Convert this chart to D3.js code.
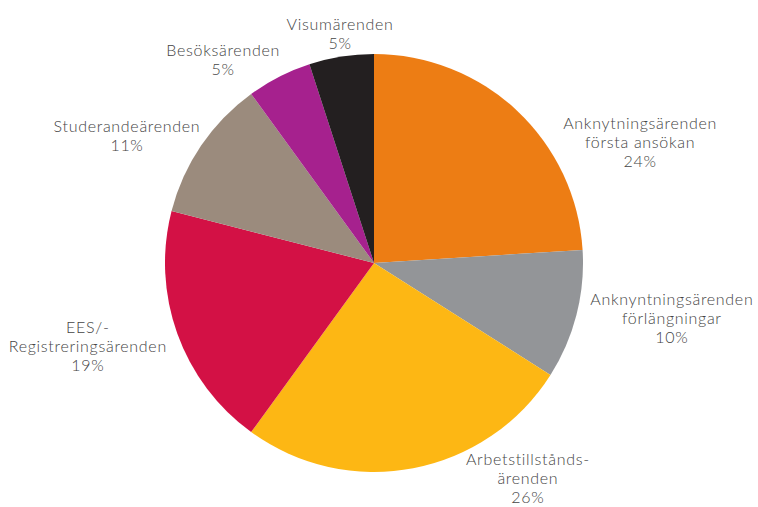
<!DOCTYPE html>
<html>
<head>
<meta charset="utf-8">
<script src="https://cdn.jsdelivr.net/npm/d3@7"></script>
<style>
	body { margin: 0; background: #fff; }
	text { font-family: Lato, "Open Sans", sans-serif; font-weight: 300; fill: #444; letter-spacing: 0.7px; }
</style>
</head>
<body>
<div id="chart"></div>
<script>
(function(){
	// data
	var categories = [
		["Anknytningsärenden", "första ansökan"],
		["Anknyntningsärenden", "förlängningar"],
		["Arbetstillstånds-", "ärenden"],
		["EES/-", "Registreringsärenden"],
		["Studerandeärenden"],
		["Besöksärenden"],
		["Visumärenden"]
	];
	var values = [24, 10, 26, 19, 11, 5, 5];
	var colors = ["#ED7D14", "#939598", "#FDB714", "#D31145", "#9B8B7D", "#A6218E", "#231F20"];

	// layout
	var w = 758, h = 507;
	var cx = 374, cy = 263, radius = 209;
	var fontSize = 16, lineH = 19;
	// label placement: [angle in degrees clockwise from top, distance from centre]
	var labelPolar = [[65.7, 292], [100.6, 303], [144.5, 265], [253.8, 298], [297.3, 278], [323.4, 253], [351.6, 232]];

	var svg = d3.select("#chart")
		.append("svg")
		.attr("width", w)
		.attr("height", h);

	var pie = d3.pie().sort(null).value(function(d){ return d; });
	var arcs = pie(values);
	var arc = d3.arc().innerRadius(0).outerRadius(radius);

	var g = svg.append("g").attr("transform", "translate(" + cx + "," + cy + ")");

	g.selectAll("path")
		.data(arcs)
		.enter()
		.append("path")
		.attr("d", arc)
		.attr("fill", function(d, i){ return colors[i]; });

	var labels = g.selectAll("text")
		.data(arcs)
		.enter()
		.append("text")
		.attr("text-anchor", "middle")
		.style("font-size", fontSize + "px")
		.attr("transform", function(d, i){
			var a = labelPolar[i][0] * Math.PI / 180, r = labelPolar[i][1];
			return "translate(" + (r * Math.sin(a)) + "," + (-r * Math.cos(a)) + ")";
		});

	labels.each(function(d, i){
		var lines = categories[i].concat([values[i] + "%"]);
		var top = -(lines.length - 1) * lineH / 2;
		var t = d3.select(this);
		lines.forEach(function(s, k){
			t.append("tspan")
				.attr("x", 0)
				.attr("y", top + k * lineH)
				.attr("dy", "0.35em")
				.text(s);
		});
	});
})();
</script>
</body>
</html>
